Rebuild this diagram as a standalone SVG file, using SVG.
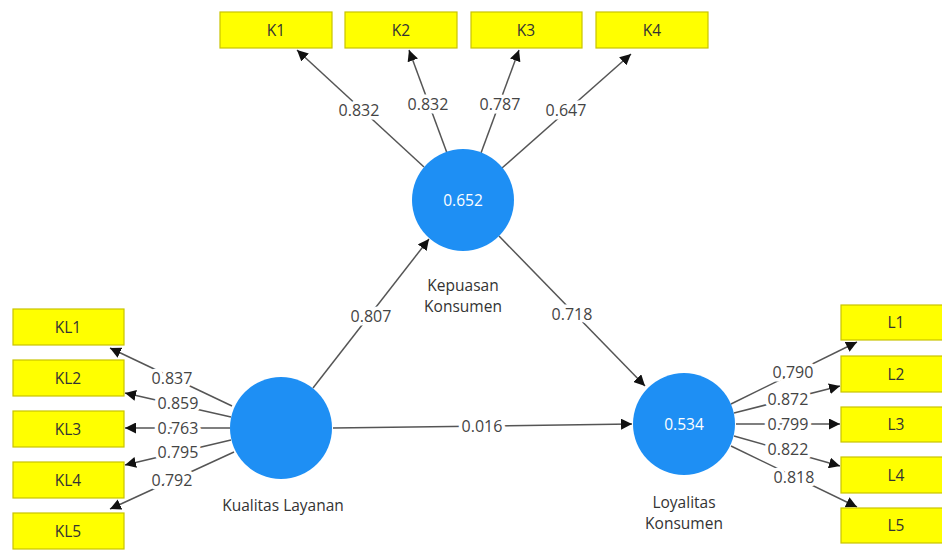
<svg xmlns="http://www.w3.org/2000/svg" width="942" height="550" viewBox="0 0 942 550">
<style>
.box{fill:#FFFF00;stroke:#C9C400;stroke-width:1.2}
.lv{fill:#1E8FF4}
.t{font-family:"Open Sans","Noto Sans","Liberation Sans",sans-serif;font-size:15.5px;fill:#333;text-anchor:middle;dominant-baseline:central}
.c{stroke:#555;stroke-width:1.5;fill:none;marker-end:url(#ah)}
.lab{font-family:"Open Sans","Noto Sans","Liberation Sans",sans-serif;font-size:16px;fill:#444;text-anchor:middle;dominant-baseline:central;stroke:#fff;stroke-width:7;paint-order:stroke;stroke-linejoin:round}
</style>
<defs>
<marker id="ah" viewBox="0 0 10 10" refX="10" refY="5" markerWidth="11" markerHeight="11" markerUnits="userSpaceOnUse" orient="auto">
<path d="M0,0 L10,5 L0,10 z" fill="#111"/>
</marker>
</defs>
<rect width="942" height="550" fill="#fff"/>
<g id="connectors">
<line class="c" x1="424" y1="167" x2="297" y2="50"/>
<line class="c" x1="447" y1="153" x2="409" y2="50"/>
<line class="c" x1="481" y1="153" x2="519" y2="50"/>
<line class="c" x1="502" y1="168" x2="631" y2="54"/>
<line class="c" x1="313" y1="388" x2="429" y2="239"/>
<line class="c" x1="499" y1="236" x2="645" y2="386"/>
<line class="c" x1="333" y1="428" x2="632" y2="424"/>
<line class="c" x1="232" y1="406" x2="110" y2="348"/>
<line class="c" x1="231" y1="417" x2="125" y2="393"/>
<line class="c" x1="230" y1="428" x2="125" y2="428"/>
<line class="c" x1="231" y1="440" x2="125" y2="465"/>
<line class="c" x1="234" y1="452" x2="110" y2="509"/>
<line class="c" x1="731" y1="404" x2="857" y2="342"/>
<line class="c" x1="734" y1="413" x2="840" y2="386"/>
<line class="c" x1="736" y1="424" x2="840" y2="424"/>
<line class="c" x1="734" y1="436" x2="840" y2="466"/>
<line class="c" x1="731" y1="446" x2="857" y2="507"/>
<text class="lab" x="359" y="110">0.832</text>
<text class="lab" x="428" y="104">0.832</text>
<text class="lab" x="500" y="104">0.787</text>
<text class="lab" x="566" y="110">0.647</text>
<text class="lab" x="371" y="316">0.807</text>
<text class="lab" x="572" y="314">0.718</text>
<text class="lab" x="482" y="426">0.016</text>
<text class="lab" x="172" y="378">0.837</text>
<text class="lab" x="178" y="403">0.859</text>
<text class="lab" x="178" y="428">0.763</text>
<text class="lab" x="178" y="452">0.795</text>
<text class="lab" x="172" y="480">0.792</text>
<text class="lab" x="793" y="372">0.790</text>
<text class="lab" x="788" y="399">0.872</text>
<text class="lab" x="788" y="424">0.799</text>
<text class="lab" x="788" y="449">0.822</text>
<text class="lab" x="794" y="477">0.818</text>
</g>
<g id="K1"><rect class="box" x="220" y="12" width="112" height="36"/><text class="t" x="276" y="30">K1</text></g>
<g id="K2"><rect class="box" x="345" y="12" width="112" height="36"/><text class="t" x="401" y="30">K2</text></g>
<g id="K3"><rect class="box" x="471" y="12" width="111" height="36"/><text class="t" x="526" y="30">K3</text></g>
<g id="K4"><rect class="box" x="596" y="12" width="112" height="36"/><text class="t" x="652" y="30">K4</text></g>
<g id="KL1"><rect class="box" x="13" y="309" width="111" height="36"/><text class="t" x="68" y="327">KL1</text></g>
<g id="KL2"><rect class="box" x="13" y="360" width="111" height="36"/><text class="t" x="68" y="378">KL2</text></g>
<g id="KL3"><rect class="box" x="13" y="411" width="111" height="36"/><text class="t" x="68" y="429">KL3</text></g>
<g id="KL4"><rect class="box" x="13" y="462" width="111" height="36"/><text class="t" x="68" y="480">KL4</text></g>
<g id="KL5"><rect class="box" x="13" y="513" width="111" height="36"/><text class="t" x="68" y="531">KL5</text></g>
<g id="L1"><rect class="box" x="841" y="305" width="112" height="35"/><text class="t" x="896" y="322">L1</text></g>
<g id="L2"><rect class="box" x="841" y="356" width="112" height="36"/><text class="t" x="896" y="374">L2</text></g>
<g id="L3"><rect class="box" x="841" y="407" width="112" height="35"/><text class="t" x="896" y="424">L3</text></g>
<g id="L4"><rect class="box" x="841" y="457" width="112" height="36"/><text class="t" x="896" y="475">L4</text></g>
<g id="L5"><rect class="box" x="841" y="508" width="112" height="35"/><text class="t" x="896" y="525">L5</text></g>
<g id="KepuasanKonsumen"><circle class="lv" cx="463" cy="200" r="51"/><text class="t" x="463" y="200" style="fill:#fff">0.652</text><text class="t" x="463" y="285">Kepuasan</text><text class="t" x="463" y="306">Konsumen</text></g>
<g id="KualitasLayanan"><circle class="lv" cx="281" cy="428" r="51"/><text class="t" x="283" y="505">Kualitas Layanan</text></g>
<g id="LoyalitasKonsumen"><circle class="lv" cx="684" cy="424" r="51"/><text class="t" x="684" y="424" style="fill:#fff">0.534</text><text class="t" x="684" y="502">Loyalitas</text><text class="t" x="684" y="523">Konsumen</text></g>
</svg>
